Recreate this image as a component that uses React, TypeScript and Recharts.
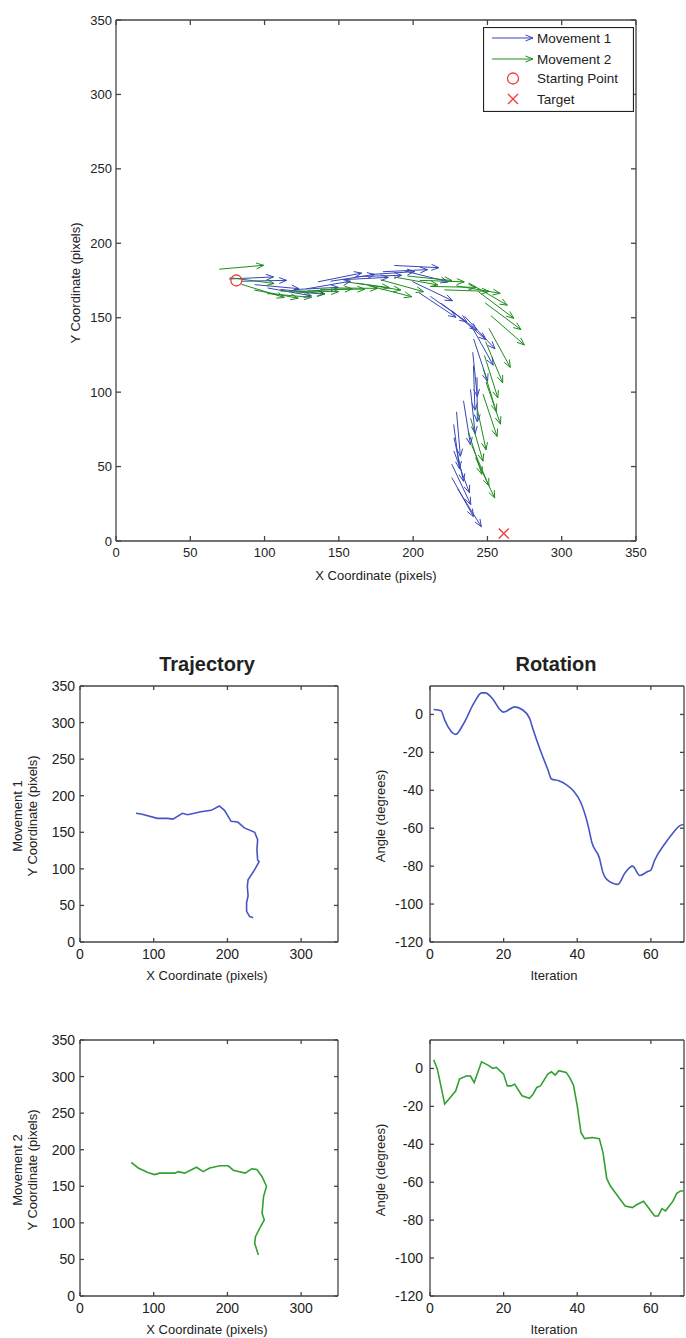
import React from 'react';
import {
  ComposedChart,
  LineChart,
  Line,
  Scatter,
  XAxis,
  YAxis,
  ReferenceLine,
  Legend,
} from 'recharts';

// quiver arrows (tail x, tail y, u, v) in pixel units of the scene
const m1X = [76, 84.8, 93.3, 102, 110.7, 119.6, 128.2, 135.9, 144.4, 153.3, 162.2, 171.1, 179.7, 187.3, 194.4, 199.4, 203.8, 211.6, 219, 226.2, 234.6, 239.3, 240.7, 240.1, 240.6, 243, 238.6, 233.9, 229.2, 227.3, 227.5, 227.4, 226, 226, 230];
const m1Y = [176, 174.5, 172.2, 170, 169, 168.9, 169.4, 174.1, 174.5, 175.6, 177.6, 179, 180.9, 185.1, 181.4, 174.3, 166.9, 164.3, 159.6, 154.6, 151, 144.3, 135.8, 126.8, 117.9, 110, 101.9, 94.2, 86.8, 78.3, 69.4, 60.5, 51.6, 42.6, 35];
const m1U = [30, 30, 29.9, 29.5, 29.9, 30, 29.6, 29.4, 29.7, 30, 30, 29.9, 30, 30, 29.1, 27.1, 25, 24.6, 24.1, 22.9, 20.5, 14.6, 9.4, 3.1, 1, 0.2, 3.1, 4.7, 2.6, 3.9, 6.4, 10.5, 12.8, 14.6, 15.9];
const m1V = [1.4, 0.6, -2.7, -5.3, -2.9, 1.5, 5.1, 5.9, 4.6, 1.5, 0.9, 2, 1.4, -1.5, -7.3, -12.9, -16.6, -17.2, -17.9, -19.4, -21.9, -26.2, -28.5, -29.8, -30, -30, -29.8, -29.6, -29.9, -29.8, -29.3, -28.1, -27.2, -26.2, -25.4];

const m2X = [69.5, 76.7, 84.6, 93.1, 101.7, 110.6, 119.8, 129, 137.5, 146, 154.2, 162.1, 169.9, 178.1, 187.1, 196.2, 204.4, 212.2, 221.1, 229, 237.4, 243.8, 248.5, 252.3, 251, 248.8, 248, 247.2, 249, 247, 242.8, 238.7, 237.2, 239.3, 242];
const m2Y = [182.6, 176.9, 172.4, 168.6, 166.2, 168, 168, 168, 169, 170, 174.1, 173.2, 171.6, 175.5, 177.4, 178, 175.1, 171, 168.7, 171.4, 173.4, 167.6, 159.9, 151.4, 142.9, 133.9, 124.7, 115.7, 106.9, 98.7, 90.5, 82.4, 73.4, 64.6, 56];
const m2U = [29.9, 29.7, 28.7, 29.5, 29.9, 29.9, 30, 30, 30, 30, 29.8, 29.6, 29.1, 28.9, 29.5, 29.9, 30, 30, 30, 29.6, 26, 24, 24.1, 22.6, 14.4, 11.5, 9, 8.7, 9.8, 9.5, 6.3, 8.3, 9, 11.7, 12.9];
const m2V = [2.6, -3.9, -8.8, -5.5, -2.5, -2.1, -0.5, 1.4, 0.2, -0.3, -3.9, -4.6, -7.5, -8, -5.4, -3, -1, -0.6, -1, -5, -15, -18, -17.9, -19.7, -26.3, -27.7, -28.6, -28.7, -28.4, -28.5, -29.3, -28.8, -28.6, -27.6, -27.1];

const startPoint = [{ x: 81, y: 175 }];
const targetPoint = [{ x: 261, y: 5 }];

// trajectories
const traj1X = [76, 83, 105, 119, 126, 139, 146, 164, 178, 189, 196, 205, 214, 223, 237, 241, 240, 241, 243, 237, 228, 227, 228, 226, 226, 230, 235];
const traj1Y = [176, 175, 169, 169, 168, 176, 174, 178, 180, 186, 180, 165, 164, 156, 150, 140, 126, 112, 110, 99, 85, 76, 63, 54, 42, 35, 33];
const traj2X = [69.5, 79, 92, 101, 108, 129, 133, 142, 158, 167, 176, 190, 201, 208, 224, 233, 240, 247, 253, 249, 247, 250, 245, 238, 237, 242];
const traj2Y = [182.6, 175, 169, 166, 168, 168, 170, 168, 176, 170, 175, 178, 178, 172, 168, 174, 173, 163, 150, 136, 113, 104, 95, 81, 72, 56];

// rotation angle per iteration
const rot1Iter = [1, 3, 4, 7, 9, 12, 14, 15, 17, 19, 20, 23, 25, 27, 28, 30, 32, 33, 35, 37, 39, 41, 43, 44, 46, 47, 48, 51, 53, 55, 57, 59, 60, 61, 64, 66, 68, 69];
const rot1Angle = [2.6, 2.0, -3, -10.5, -5.3, 6.2, 11.4, 11.4, 8.3, 2.6, 1.2, 4, 2.6, -1.8, -7.9, -19, -29, -34, -35, -37, -40.4, -46.6, -59, -67.7, -75.6, -83.5, -87, -89.6, -83.5, -80, -84.9, -83, -82, -77, -67.7, -62.5, -58.5, -58];
const rot2Iter = [1, 2, 4, 5, 7, 8, 10, 11, 12, 14, 16, 17, 18, 20, 21, 22, 23, 25, 27, 28, 29, 30, 32, 33, 34, 35, 37, 38, 39, 40, 41, 42, 44, 46, 47, 48, 49, 50, 53, 55, 56, 58, 59, 61, 62, 63, 64, 66, 67, 68, 69];
const rot2Angle = [4.6, -0.4, -18.8, -16.5, -11.8, -5.6, -3.9, -4, -7.4, 3.5, 1.5, 0, 0.5, -3, -9.2, -9.2, -8.3, -14.4, -15.7, -13.6, -10, -9.2, -3, -1.8, -3.5, -1.2, -2.1, -5, -9, -19.7, -33.8, -37, -36.4, -37, -44.4, -58, -62, -64.6, -72.5, -73.4, -72, -70, -72.5, -77.8, -77.8, -73.9, -75.1, -70, -66, -64.6, -64.6];

const pixelTicks = [0, 50, 100, 150, 200, 250, 300, 350];
const smallXTicks = [0, 100, 200, 300];
const iterTicks = [0, 20, 40, 60];
const angleTicks = [-120, -100, -80, -60, -40, -20, 0];

const BLUE = '#3846b8';
const GREEN = '#1d8c1d';
const BLUE_L = '#4654c4';
const GREEN_L = '#33a033';
const RED = '#f03c3c';
const INK = '#222';
const AXIS_COLOR = '#444';
const AXIS = { stroke: AXIS_COLOR, strokeWidth: 1.3 };
const FONT = "'Liberation Sans', Arial, Helvetica, sans-serif";

const toPoints = (xs: number[], ys: number[]) => xs.map((x, i) => ({ x, y: ys[i] }));

// each arrow: tail, head, then a null point so the line breaks
const buildArrows = (xs: number[], ys: number[], us: number[], vs: number[]) => {
  const pts: any[] = [];
  xs.forEach((x, i) => {
    pts.push({ x, y: ys[i] });
    pts.push({ x: x + us[i], y: ys[i] + vs[i], head: true, u: us[i], v: vs[i] });
    pts.push({ x: x + us[i], y: null });
  });
  return pts;
};

const arrows1 = buildArrows(m1X, m1Y, m1U, m1V);
const arrows2 = buildArrows(m2X, m2Y, m2U, m2V);

const headPath = (tx: number, ty: number, ang: number, len = 8, spread = 0.38) => {
  const x1 = tx - len * Math.cos(ang - spread);
  const y1 = ty - len * Math.sin(ang - spread);
  const x2 = tx - len * Math.cos(ang + spread);
  const y2 = ty - len * Math.sin(ang + spread);
  return `M${x1},${y1}L${tx},${ty}L${x2},${y2}`;
};

const arrowHead = (color: string) => (props: any) => {
  const { cx, cy, payload, index } = props;
  if (!payload || !payload.head || cx == null || cy == null) return <g key={`n-${index}`} />;
  // both axes have (almost) the same px per unit, so data direction ~ screen direction
  const ang = Math.atan2(-payload.v, payload.u);
  return <path key={`h-${index}`} d={headPath(cx, cy, ang)} fill="none" stroke={color} strokeWidth={1} />;
};

const startShape = (p: any) => (
  <circle cx={p.cx} cy={p.cy} r={5.5} fill="none" stroke={RED} strokeWidth={1.3} />
);
const targetShape = (p: any) => (
  <path
    d={`M${p.cx - 5},${p.cy - 5}L${p.cx + 5},${p.cy + 5}M${p.cx - 5},${p.cy + 5}L${p.cx + 5},${p.cy - 5}`}
    stroke={RED}
    strokeWidth={1.3}
  />
);

const textLabel = (text: string, x: number, y: number, size = 13, weight: any = 'normal') => () => (
  <text x={x} y={y} textAnchor="middle" dominantBaseline="central" fontSize={size} fontWeight={weight} fill={INK}>
    {text}
  </text>
);

const vLabel = (lines: string[], xs: number[], y: number, size = 13) => () => (
  <g>
    {lines.map((t, i) => (
      <text
        key={t}
        x={xs[i]}
        y={y}
        transform={`rotate(-90 ${xs[i]} ${y})`}
        textAnchor="middle"
        dominantBaseline="central"
        fontSize={size}
        fill={INK}
      >
        {t}
      </text>
    ))}
  </g>
);

// tick marks point inward, and are mirrored on the opposite side of the box
const bottomTick = (fontSize: number, plotH: number, len: number, gap: number) => (props: any) => {
  const { x, y, payload, index } = props;
  return (
    <g key={`bt-${index}`}>
      <line x1={x} y1={y} x2={x} y2={y - len} {...AXIS} />
      <line x1={x} y1={y - plotH} x2={x} y2={y - plotH + len} {...AXIS} />
      <text x={x} y={y + gap} textAnchor="middle" dominantBaseline="central" fontSize={fontSize} fill={INK}>
        {payload.value}
      </text>
    </g>
  );
};

const leftTick = (fontSize: number, plotW: number, len: number, gap: number) => (props: any) => {
  const { x, y, payload, index } = props;
  return (
    <g key={`lt-${index}`}>
      <line x1={x} y1={y} x2={x + len} y2={y} {...AXIS} />
      <line x1={x + plotW} y1={y} x2={x + plotW - len} y2={y} {...AXIS} />
      <text x={x - gap} y={y} textAnchor="end" dominantBaseline="central" fontSize={fontSize} fill={INK}>
        {payload.value}
      </text>
    </g>
  );
};

interface FrameCfg {
  xDomain: number[];
  xTicks: number[];
  yDomain: number[];
  yTicks: number[];
  yWidth: number;
  xHeight: number;
  plotW: number;
  plotH: number;
  fontSize: number;
  tick: number;
  xGap: number;
  yGap: number;
  xLabel: any;
  yLabel: any;
  title?: any;
}

// MATLAB style box around the plot
const frameAxes = (c: FrameCfg) => [
  <XAxis
    key="xb"
    type="number"
    dataKey="x"
    domain={c.xDomain}
    ticks={c.xTicks}
    interval={0}
    allowDataOverflow
    height={c.xHeight}
    tickSize={0}
    tickMargin={0}
    axisLine={AXIS}
    tickLine={false}
    tick={bottomTick(c.fontSize, c.plotH, c.tick, c.xGap)}
    label={{ content: c.xLabel }}
  />,
  <YAxis
    key="yl"
    type="number"
    domain={c.yDomain}
    ticks={c.yTicks}
    interval={0}
    allowDataOverflow
    width={c.yWidth}
    tickSize={0}
    tickMargin={0}
    axisLine={AXIS}
    tickLine={false}
    tick={leftTick(c.fontSize, c.plotW, c.tick, c.yGap)}
    label={{ content: c.yLabel }}
  />,
  <ReferenceLine key="top" y={c.yDomain[1]} stroke={AXIS_COLOR} strokeWidth={1.3} label={c.title ? { content: c.title } : undefined} />,
  <ReferenceLine key="right" x={c.xDomain[1]} stroke={AXIS_COLOR} strokeWidth={1.3} />,
];

const QuiverLegend = () => (
  <svg width={151} height={85} style={{ display: 'block' }}>
    <rect x={0.5} y={0.5} width={150} height={84} fill="#fff" stroke={INK} strokeWidth={1.2} />
    <line x1={9} y1={11} x2={50} y2={11} stroke={BLUE} strokeWidth={1} />
    <path d={headPath(50, 11, 0)} fill="none" stroke={BLUE} strokeWidth={1} />
    <line x1={9} y1={32} x2={50} y2={32} stroke={GREEN} strokeWidth={1} />
    <path d={headPath(50, 32, 0)} fill="none" stroke={GREEN} strokeWidth={1} />
    <circle cx={30} cy={51.5} r={5.5} fill="none" stroke={RED} strokeWidth={1.3} />
    <path d="M25,67L35,77M25,77L35,67" stroke={RED} strokeWidth={1.3} />
    <text x={54} y={11} dominantBaseline="central" fontSize={13.5} fill={INK}>Movement 1</text>
    <text x={54} y={32} dominantBaseline="central" fontSize={13.5} fill={INK}>Movement 2</text>
    <text x={54} y={51.5} dominantBaseline="central" fontSize={13.5} fill={INK}>Starting Point</text>
    <text x={54} y={72} dominantBaseline="central" fontSize={13.5} fill={INK}>Target</text>
  </svg>
);

const QuiverChart = () => (
  <ComposedChart width={686} height={600} margin={{ top: 20, right: 50, bottom: 19, left: 56 }}>
    {frameAxes({
      xDomain: [0, 350],
      xTicks: pixelTicks,
      yDomain: [0, 350],
      yTicks: pixelTicks,
      yWidth: 60,
      xHeight: 40,
      plotW: 520,
      plotH: 521,
      fontSize: 13,
      tick: 5,
      xGap: 11,
      yGap: 4,
      xLabel: textLabel('X Coordinate (pixels)', 376, 575),
      yLabel: vLabel(['Y Coordinate (pixels)'], [75], 283),
    })}
    <Legend
      layout="horizontal"
      verticalAlign="middle"
      align="center"
      content={() => <QuiverLegend />}
      wrapperStyle={{ position: 'absolute', top: 27, left: 483, width: 151, height: 85 }}
    />
    <Line
      data={arrows1}
      dataKey="y"
      name="Movement 1"
      type="linear"
      stroke={BLUE}
      strokeWidth={1}
      dot={arrowHead(BLUE)}
      activeDot={false}
      isAnimationActive={false}
    />
    <Line
      data={arrows2}
      dataKey="y"
      name="Movement 2"
      type="linear"
      stroke={GREEN}
      strokeWidth={1}
      dot={arrowHead(GREEN)}
      activeDot={false}
      isAnimationActive={false}
    />
    <Scatter data={startPoint} dataKey="y" name="Starting Point" shape={startShape} isAnimationActive={false} />
    <Scatter data={targetPoint} dataKey="y" name="Target" shape={targetShape} isAnimationActive={false} />
  </ComposedChart>
);

const TrajectoryPanel = ({ xs, ys, color, movement, title }: any) => (
  <LineChart width={350} height={334} margin={{ top: 36, right: 12, bottom: 2, left: 40 }}>
    {frameAxes({
      xDomain: [0, 350],
      xTicks: smallXTicks,
      yDomain: [0, 350],
      yTicks: pixelTicks,
      yWidth: 40,
      xHeight: 40,
      plotW: 258,
      plotH: 256,
      fontSize: 14,
      tick: 4,
      xGap: 12,
      yGap: 5,
      xLabel: textLabel('X Coordinate (pixels)', 207, 325),
      yLabel: vLabel([movement, 'Y Coordinate (pixels)'], [17, 32], 166),
      title: title ? textLabel(title, 207, 14, 20, 'bold') : undefined,
    })}
    <Line
      data={toPoints(xs, ys)}
      dataKey="y"
      type="linear"
      stroke={color}
      strokeWidth={1.6}
      dot={false}
      activeDot={false}
      isAnimationActive={false}
    />
  </LineChart>
);

const RotationPanel = ({ iters, angles, color, title, smooth }: any) => (
  <LineChart width={346} height={334} margin={{ top: 36, right: 2, bottom: 2, left: 20 }}>
    {frameAxes({
      xDomain: [0, 69],
      xTicks: iterTicks,
      yDomain: [-120, 15],
      yTicks: angleTicks,
      yWidth: 70,
      xHeight: 40,
      plotW: 254,
      plotH: 256,
      fontSize: 14,
      tick: 4,
      xGap: 12,
      yGap: 7,
      xLabel: textLabel('Iteration', 214, 325),
      yLabel: vLabel(['Angle (degrees)'], [40], 166),
      title: title ? textLabel(title, 216, 14, 20, 'bold') : undefined,
    })}
    <Line
      data={toPoints(iters, angles)}
      dataKey="y"
      type={smooth ? 'monotone' : 'linear'}
      stroke={color}
      strokeWidth={1.6}
      dot={false}
      activeDot={false}
      isAnimationActive={false}
    />
  </LineChart>
);

const place = (left: number, top: number): React.CSSProperties => ({ position: 'absolute', left, top });

export default function App() {
  return (
    <div
      style={{
        position: 'absolute',
        left: 0,
        top: 0,
        width: 686,
        height: 1338,
        overflow: 'hidden',
        background: '#fff',
        fontFamily: FONT,
      }}
    >
      <div style={place(0, 0)}>
        <QuiverChart />
      </div>
      <div style={place(0, 650)}>
        <TrajectoryPanel xs={traj1X} ys={traj1Y} color={BLUE_L} movement="Movement 1" title="Trajectory" />
      </div>
      <div style={place(340, 650)}>
        <RotationPanel iters={rot1Iter} angles={rot1Angle} color={BLUE_L} title="Rotation" smooth />
      </div>
      <div style={place(0, 1004)}>
        <TrajectoryPanel xs={traj2X} ys={traj2Y} color={GREEN_L} movement="Movement 2" />
      </div>
      <div style={place(340, 1004)}>
        <RotationPanel iters={rot2Iter} angles={rot2Angle} color={GREEN_L} />
      </div>
    </div>
  );
}
